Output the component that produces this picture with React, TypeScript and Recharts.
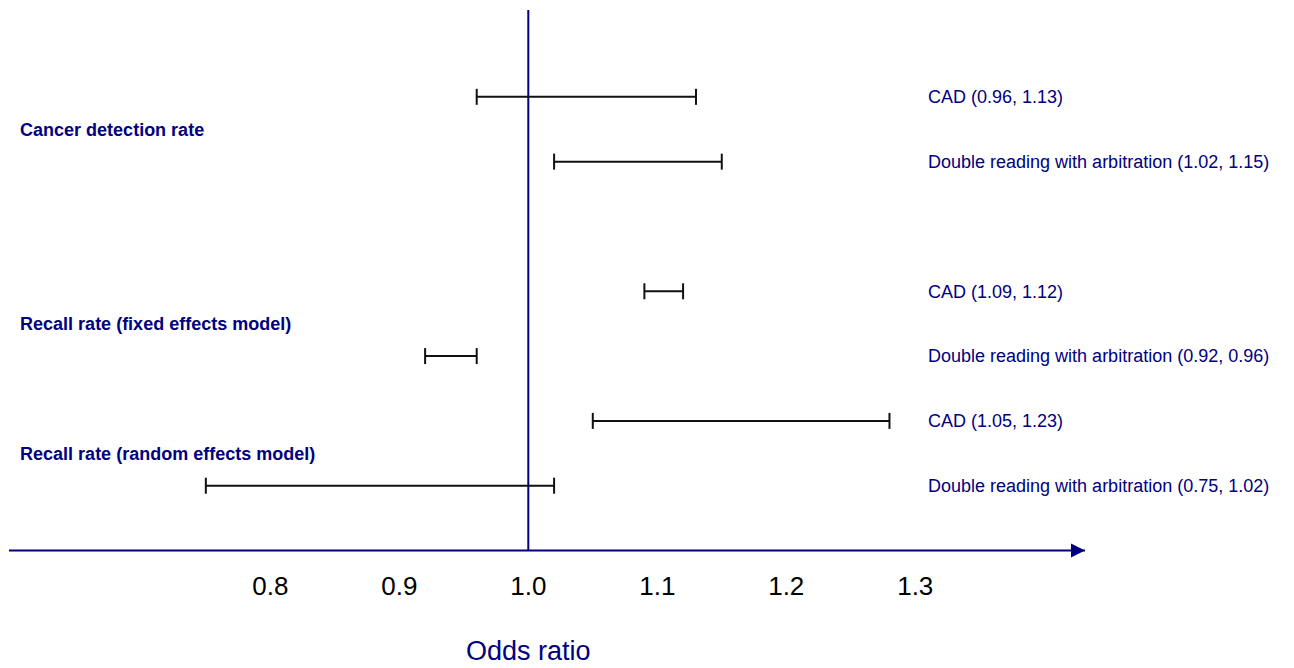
import { ScatterChart, Scatter, XAxis, YAxis, ReferenceLine, ReferenceDot } from 'recharts';

// interval rows, top to bottom
const rowNames = [
  'CAD',
  'Double reading with arbitration',
  'CAD',
  'Double reading with arbitration',
  'CAD',
  'Double reading with arbitration',
];
const rowY = [7, 6, 4, 3, 2, 1];
const lower = [0.96, 1.02, 1.09, 0.92, 1.05, 0.75];
const upper = [1.13, 1.15, 1.12, 0.96, 1.28, 1.02];
const ciText = ['(0.96, 1.13)', '(1.02, 1.15)', '(1.09, 1.12)', '(0.92, 0.96)', '(1.05, 1.23)', '(0.75, 1.02)'];

const groupNames = [
  'Cancer detection rate',
  'Recall rate (fixed effects model)',
  'Recall rate (random effects model)',
];
const groupY = [6.5, 3.5, 1.5];

const xTicks = [0.8, 0.9, 1.0, 1.1, 1.2, 1.3];

const X_MIN = 0.5974;
const X_MAX = 1.4316;
const Y_MAX = 8.34;
const LABEL_X = 1.3099;
const GROUP_X = 0.606;

const NAVY = '#000080';
const FONT = "'Liberation Sans', Arial, sans-serif";

const labelData = rowNames.map((n, i) => ({ x: LABEL_X, y: rowY[i], text: `${n} ${ciText[i]}` }));
const groupData = groupNames.map((n, i) => ({ x: GROUP_X, y: groupY[i], text: n }));

const Cap = (props: any) => (
  <line x1={props.cx} x2={props.cx} y1={props.cy - 8} y2={props.cy + 8} stroke="#111" strokeWidth={2} />
);

const RowLabel = (props: any) => (
  <text x={props.cx} y={props.cy + 6.4} fill={NAVY} fontSize={18} fontFamily={FONT}>
    {props.payload.text}
  </text>
);

const GroupLabel = (props: any) => (
  <text x={props.cx} y={props.cy + 6.4} fill={NAVY} fontSize={18} fontWeight="bold" fontFamily={FONT}>
    {props.payload.text}
  </text>
);

const Tick = (props: any) => (
  <text x={props.x} y={props.y + 44.5} textAnchor="middle" fill="#000" fontSize={26} fontFamily={FONT}>
    {Number(props.payload.value).toFixed(1)}
  </text>
);

const Arrow = (props: any) => (
  <polygon
    points={`${props.cx},${props.cy} ${props.cx - 14},${props.cy - 7} ${props.cx - 14},${props.cy + 7}`}
    fill={NAVY}
  />
);

const AxisTitle = (props: any) => {
  const vb = props.viewBox;
  return (
    <text x={vb.x} y={vb.y + vb.height + 109.5} textAnchor="middle" fill={NAVY} fontSize={27} fontFamily={FONT}>
      Odds ratio
    </text>
  );
};

export default function App() {
  return (
    <div style={{ position: 'absolute', left: 0, top: 0 }}>
      <ScatterChart width={1294} height={668} margin={{ top: 10, right: 209, left: 9, bottom: 57.5 }}>
        <XAxis
          type="number"
          dataKey="x"
          domain={[X_MIN, X_MAX]}
          ticks={xTicks}
          tick={<Tick />}
          tickLine={false}
          tickSize={0}
          tickMargin={0}
          height={60}
          axisLine={{ stroke: NAVY, strokeWidth: 2 }}
        />
        <YAxis type="number" dataKey="y" domain={[0, Y_MAX]} hide width={0} />
        <ReferenceLine x={1} stroke={NAVY} strokeWidth={2} label={<AxisTitle />} />
        <ReferenceDot x={X_MAX} y={0} ifOverflow="visible" shape={<Arrow />} />
        {rowY.map((y, i) => (
          <Scatter
            key={i}
            data={[
              { x: lower[i], y },
              { x: upper[i], y },
            ]}
            line={{ stroke: '#111', strokeWidth: 2 }}
            shape={<Cap />}
            isAnimationActive={false}
          />
        ))}
        <Scatter data={labelData} shape={<RowLabel />} isAnimationActive={false} />
        <Scatter data={groupData} shape={<GroupLabel />} isAnimationActive={false} />
      </ScatterChart>
    </div>
  );
}
